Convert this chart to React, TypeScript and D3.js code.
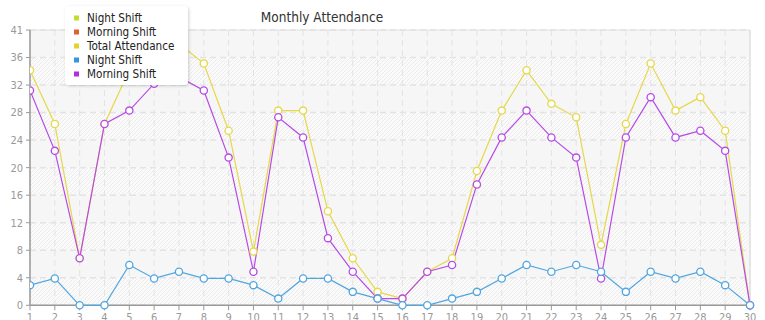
import React from "react";
import * as d3 from "d3";

const days = d3.range(1, 31).map(String);
const nightShift = [3, 4, 0, 0, 6, 4, 5, 4, 4, 3, 1, 4, 4, 2, 1, 0, 0, 1, 2, 4, 6, 5, 6, 5, 2, 5, 4, 5, 3, 0];
const morningShift = [32, 23, 7, 27, 29, 33, 34, 32, 22, 5, 28, 25, 10, 5, 1, 1, 5, 6, 18, 25, 29, 25, 22, 4, 25, 31, 25, 26, 23, 0];
const totalAttendance = [35, 27, 7, 27, 35, 37, 39, 36, 26, 8, 29, 29, 14, 7, 2, 1, 5, 7, 20, 29, 35, 30, 28, 9, 27, 36, 29, 31, 26, 0];
const yTickValues = [0, 4.1, 8.2, 12.3, 16.4, 20.5, 24.6, 28.7, 32.8, 36.9, 41];
const yTickLabels = ["0", "4", "8", "12", "16", "20", "24", "28", "32", "36", "41"];
const legendNames = ["Night Shift", "Morning Shift", "Total Attendance", "Night Shift", "Morning Shift"];
const legendColors = ["#c2dd2c", "#e0622c", "#e2d22c", "#3495e0", "#b22fe0"];
const title = "Monthly Attendance";

const lineSeries = [
  { name: "Total Attendance", values: totalAttendance, color: "#e6d84a" },
  { name: "Morning Shift", values: morningShift, color: "#b84ae6" },
  { name: "Night Shift", values: nightShift, color: "#52a6e0" },
];

const W = 765, H = 320;
const left = 30, right = 750, top = 30, bottom = 305.3;
const FONT = "'DejaVu Sans Condensed', 'DejaVu Sans', sans-serif";

export default function App() {
  const x = d3.scalePoint<string>().domain(days).range([left, right]);
  const y = d3.scaleLinear().domain([0, 41]).range([bottom, top]);
  const line = d3.line<number>().x((_, i) => x(days[i])!).y((v) => y(v));
  const bands = yTickValues.slice(0, -1).map((v, i) => ({ v0: v, v1: yTickValues[i + 1], hatched: i % 2 === 1 }));

  return (
    <div style={{ position: "absolute", left: 0, top: 0 }}>
      <svg width={W} height={H} style={{ display: "block", fontFamily: FONT }}>
        <defs>
          <pattern id="hatch" patternUnits="userSpaceOnUse" width="4" height="4">
            <rect width="4" height="4" fill="#fafafa" />
            <path d="M-1,1 l2,-2 M0,4 l4,-4 M3,5 l2,-2" stroke="#ececec" strokeWidth="1" />
          </pattern>
          <filter id="shadow" x="-20%" y="-20%" width="140%" height="140%">
            <feDropShadow dx="1" dy="1" stdDeviation="1.5" floodColor="#000" floodOpacity="0.18" />
          </filter>
          <clipPath id="plotclip">
            <rect x={left} y={top - 6} width={right - left + 8} height={bottom - top + 12} />
          </clipPath>
        </defs>
        <rect width={W} height={H} fill="#ffffff" />
        {bands.map((b, i) => (
          <rect key={i} x={left} y={y(b.v1)} width={right - left} height={y(b.v0) - y(b.v1)}
            fill={b.hatched ? "#f6f6f6" : "url(#hatch)"} />
        ))}
        {yTickValues.map((v, i) => (
          <line key={"gy" + i} x1={left} x2={right} y1={y(v)} y2={y(v)}
            stroke="#e3e3e3" strokeWidth={1.5} strokeDasharray="6,4" />
        ))}
        {days.map((d) => (
          <line key={"gx" + d} x1={x(d)} x2={x(d)} y1={top} y2={bottom}
            stroke="#e3e3e3" strokeWidth={1} strokeDasharray="6,4" />
        ))}
        <line x1={left} x2={right} y1={top} y2={top} stroke="#e0e0e0" strokeWidth={1} />
        <line x1={right} x2={right} y1={top} y2={bottom} stroke="#e0e0e0" strokeWidth={1.5} />
        <line x1={left} x2={left} y1={top} y2={bottom} stroke="#999" strokeWidth={1.5} />
        <line x1={left} x2={right} y1={bottom} y2={bottom} stroke="#999" strokeWidth={1.5} />
        {yTickValues.map((v, i) => (
          <g key={"ty" + i}>
            <line x1={left - 4} x2={left} y1={y(v)} y2={y(v)} stroke="#999" strokeWidth={1} />
            <text x={left - 7} y={y(v)} dy="0.35em" textAnchor="end" fontSize={11} fill="#999">{yTickLabels[i]}</text>
          </g>
        ))}
        {days.map((d) => (
          <g key={"tx" + d}>
            <line x1={x(d)} x2={x(d)} y1={bottom} y2={bottom + 5} stroke="#999" strokeWidth={1} />
            <text x={x(d)} y={bottom + 15.5} textAnchor="middle" fontSize={11} fill="#999">{d}</text>
          </g>
        ))}
        <g clipPath="url(#plotclip)">
          {lineSeries.map((s) => (
            <path key={s.name} d={line(s.values)!} fill="none" stroke={s.color} strokeWidth={1.2} />
          ))}
          {lineSeries.map((s) => (
            <g key={s.name + "m"}>
              {s.values.map((v, i) => (
                <circle key={i} cx={x(days[i])} cy={y(v)} r={3.6} fill="#fff" stroke={s.color} strokeWidth={1.3} />
              ))}
            </g>
          ))}
        </g>
        <text x={322} y={22} textAnchor="middle" fontSize={13.5} fill="#333">{title}</text>
        <rect x={65} y={6} width={123} height={79} rx={4} fill="#fff" filter="url(#shadow)" />
        {legendNames.map((n, i) => (
          <g key={"lg" + i} transform={`translate(0, ${18 + i * 14})`}>
            <rect x={74} y={-2.5} width={5} height={5} fill={legendColors[i]} />
            <text x={87} y={0} dy="0.35em" fontSize={11.6} fill="#222">{n}</text>
          </g>
        ))}
      </svg>
    </div>
  );
}
